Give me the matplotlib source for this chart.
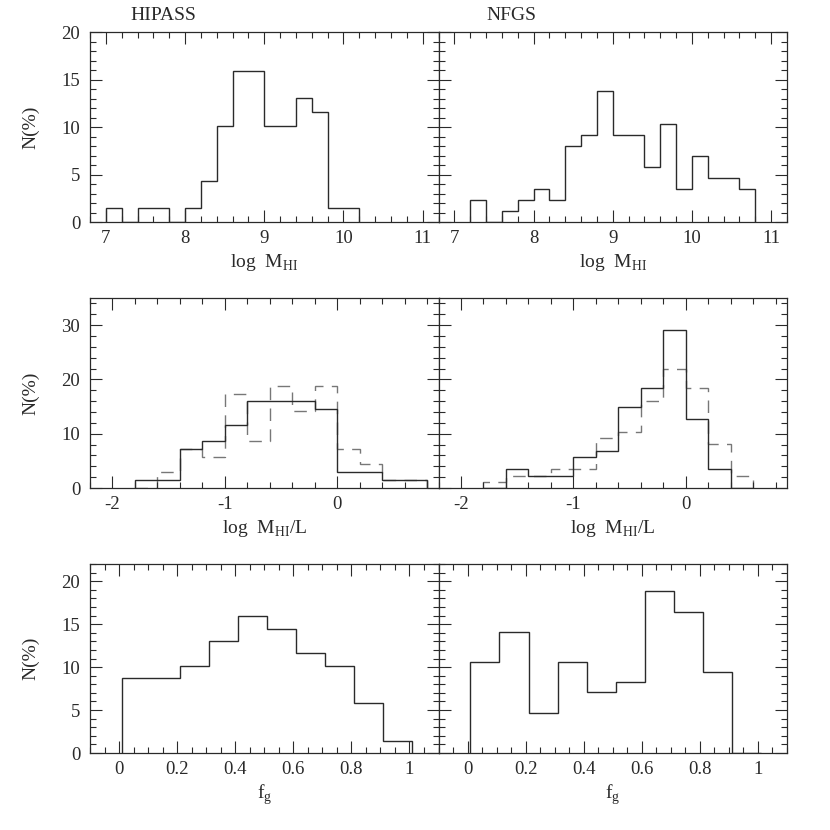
import numpy as np
import matplotlib
matplotlib.use("Agg")
import matplotlib.pyplot as plt
from matplotlib.ticker import MultipleLocator, FormatStrFormatter

plt.rcParams['font.family'] = ['Liberation Serif', 'DejaVu Serif']
plt.rcParams['mathtext.fontset'] = 'custom'
plt.rcParams['mathtext.rm'] = 'Liberation Serif'
plt.rcParams['axes.unicode_minus'] = True

# --- data (percent of sample per bin) ---
# row 1: log M_HI
hipass_mhi_edges = [7.0, 7.2, 7.4, 7.6, 7.8, 8.0, 8.2, 8.4, 8.6, 8.8, 9.0, 9.2, 9.4, 9.6, 9.8, 10.0, 10.2]
hipass_mhi = [1.45, 0, 1.45, 1.45, 0, 1.45, 4.35, 10.14, 15.94, 15.94, 10.14, 10.14, 13.04, 11.59, 1.45, 1.45]

nfgs_mhi_edges = [7.2, 7.4, 7.6, 7.8, 8.0, 8.2, 8.4, 8.6, 8.8, 9.0, 9.2, 9.4, 9.6, 9.8, 10.0, 10.2, 10.4, 10.6, 10.8]
nfgs_mhi = [2.30, 0, 1.15, 2.30, 3.45, 2.30, 8.05, 9.20, 13.79, 9.20, 9.20, 5.75, 10.34, 3.45, 6.90, 4.60, 4.60, 3.45]

# row 2: log M_HI/L (solid and dashed)
mhil_edges = [-1.8, -1.6, -1.4, -1.2, -1.0, -0.8, -0.6, -0.4, -0.2, 0.0, 0.2, 0.4, 0.6, 0.8]
hipass_mhil_solid = [1.45, 1.45, 7.25, 8.70, 11.59, 15.94, 15.94, 15.94, 14.49, 2.90, 2.90, 1.45, 1.45]
hipass_mhil_dash = [0, 2.90, 7.25, 5.80, 17.39, 8.70, 18.84, 14.2, 18.84, 7.25, 4.35, 1.45, 1.45]

nfgs_mhil_edges = [-1.8, -1.6, -1.4, -1.2, -1.0, -0.8, -0.6, -0.4, -0.2, 0.0, 0.2, 0.4, 0.6]
nfgs_mhil_solid = [0, 3.45, 2.30, 2.30, 5.75, 6.90, 14.94, 18.39, 29.1, 12.64, 3.45, 0]
nfgs_mhil_dash = [1.15, 2.30, 2.30, 3.45, 3.45, 9.20, 10.34, 16.09, 21.84, 18.39, 8.05, 2.30]

# row 3: gas fraction f_g
fg_edges = [0.01, 0.11, 0.21, 0.31, 0.41, 0.51, 0.61, 0.71, 0.81, 0.91, 1.01]
hipass_fg = [8.70, 8.70, 10.14, 13.04, 15.94, 14.49, 11.59, 10.14, 5.80, 1.45]
nfgs_fg = [10.59, 14.12, 4.71, 10.59, 7.06, 8.24, 18.82, 16.47, 9.41, 0]

titles = ["HIPASS", "NFGS"]

W = 830.0
col_x = [90, 438.5, 787]
row_y = [(32, 222), (298, 488), (564, 753)]

rows = [
    dict(xlim=(6.8, 11.2), ylim=(0, 20), xmaj=1, xmin=0.2, ymaj=5, ymin=1,
         xlabel=r"log  M$_{\rm HI}$", xfmt="%g"),
    dict(xlim=(-2.2, 0.9), ylim=(0, 35), xmaj=1, xmin=0.2, ymaj=10, ymin=2,
         xlabel=r"log  M$_{\rm HI}$/L", xfmt="%g"),
    dict(xlim=(-0.1, 1.1), ylim=(0, 22), xmaj=0.2, xmin=0.05, ymaj=5, ymin=1,
         xlabel=r"f$_{\rm g}$", xfmt="%g"),
]

solid_c = "#2a2a2a"
dash_c = "#777777"
txt_c = "#2a2a2a"

fig = plt.figure(figsize=(8.3, 8.3), dpi=100, facecolor="white")

axes = []
for r, (ytop, ybot) in enumerate(row_y):
    for c in range(2):
        left = col_x[c] / W
        width = (col_x[c + 1] - col_x[c]) / W
        bottom = 1 - ybot / W
        height = (ybot - ytop) / W
        ax = fig.add_axes([left, bottom, width, height])
        opt = rows[r]
        ax.set_xlim(*opt["xlim"])
        ax.set_ylim(*opt["ylim"])
        ax.xaxis.set_major_locator(MultipleLocator(opt["xmaj"]))
        ax.xaxis.set_minor_locator(MultipleLocator(opt["xmin"]))
        ax.yaxis.set_major_locator(MultipleLocator(opt["ymaj"]))
        ax.yaxis.set_minor_locator(MultipleLocator(opt["ymin"]))
        ax.xaxis.set_major_formatter(FormatStrFormatter(opt["xfmt"]))
        ax.tick_params(which="both", direction="in", top=True, right=True,
                       width=0.8, labelsize=13.5, colors=txt_c)
        ax.tick_params(which="major", length=8.5)
        ax.tick_params(which="minor", length=4.3)
        ax.tick_params(axis="x", pad=6)
        ax.tick_params(axis="y", pad=7)
        for s in ax.spines.values():
            s.set_linewidth(0.9)
            s.set_color(txt_c)
        ax.set_xlabel(opt["xlabel"], fontsize=14, labelpad=3, color=txt_c)
        if c == 0:
            ax.set_ylabel("N(%)", fontsize=14, color=txt_c)
            ax.yaxis.set_label_coords(-0.145, 0.5)
        else:
            ax.tick_params(axis="y", labelleft=False)
        axes.append(ax)

ax = axes[0]
ax.stairs(hipass_mhi, hipass_mhi_edges, baseline=0, color=solid_c, lw=1.0)
ax = axes[1]
ax.stairs(nfgs_mhi, nfgs_mhi_edges, baseline=0, color=solid_c, lw=1.0)

ax = axes[2]
ax.stairs(hipass_mhil_dash, mhil_edges, baseline=0, color=dash_c, lw=1.0, linestyle=(0, (9, 6)))
ax.stairs(hipass_mhil_solid, mhil_edges, baseline=0, color=solid_c, lw=1.0)
ax = axes[3]
ax.stairs(nfgs_mhil_dash, nfgs_mhil_edges, baseline=0, color=dash_c, lw=1.0, linestyle=(0, (9, 6)))
ax.stairs(nfgs_mhil_solid, nfgs_mhil_edges, baseline=0, color=solid_c, lw=1.0)

ax = axes[4]
ax.stairs(hipass_fg, fg_edges, baseline=0, color=solid_c, lw=1.0)
ax = axes[5]
ax.stairs(nfgs_fg, fg_edges, baseline=0, color=solid_c, lw=1.0)

# sample names above the top row
fig.text(130 / W, 1 - 16 / W, titles[0], fontsize=14, va="center", ha="left", color=txt_c)
fig.text(486 / W, 1 - 16 / W, titles[1], fontsize=14, va="center", ha="left", color=txt_c)

fig.savefig("out.png", dpi=100, facecolor="white")
